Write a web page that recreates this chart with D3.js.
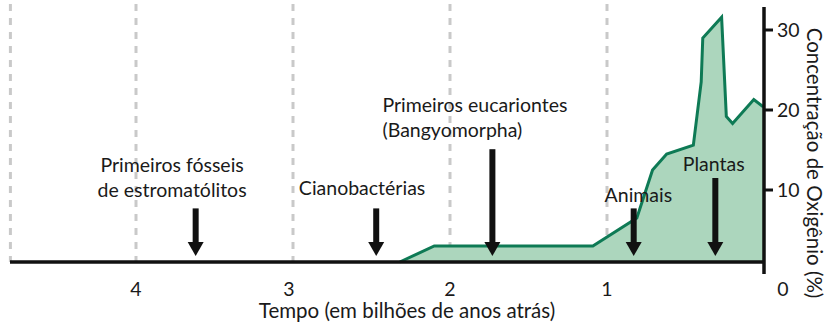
<!DOCTYPE html>
<html>
<head>
<meta charset="utf-8">
<script src="https://cdn.jsdelivr.net/npm/d3@7/dist/d3.min.js"></script>
<style>
  html, body { margin: 0; padding: 0; background: #fff; }
  svg { display: block; }
  text { font-family: Lato, "Open Sans", sans-serif; fill: #1a1a1a; }
</style>
</head>
<body>
<svg id="chart" width="831" height="327"></svg>
<script>
// Data (time in billions of years ago, oxygen concentration in %)
const timeGa = [2.32, 2.10, 1.09, 0.81, 0.71, 0.62, 0.45, 0.40, 0.39, 0.27, 0.24, 0.20, 0.065, 0.005];
const oxygen = [1.0, 3.0, 3.0, 6.5, 12.5, 14.5, 15.6, 23.5, 29.0, 31.6, 19.2, 18.3, 21.3, 20.4];
const xTicks = [4, 3, 2, 1, 0];
const yTicks = [10, 20, 30];
const gridTimes = [4.8, 4, 3, 2, 1];
const eventLabels = [
  ["Primeiros fósseis", "de estromatólitos"],
  ["Cianobactérias"],
  ["Primeiros eucariontes", "(Bangyomorpha)"],
  ["Animais"],
  ["Plantas"]
];
const eventTimes = [3.62, 2.47, 1.73, 0.83, 0.31];
const arrowTopO2 = [7.7, 7.7, 15.1, 7.7, 11.5];
const labelO2 = [[12.25, 9.1], [9.35], [19.75, 16.65], [8.5], [12.4]];
const labelAnchor = ["middle", "middle", "start", "middle", "middle"];
const labelTimeAnchor = [3.77, 2.56, 2.43, 0.80, 0.32];
const baseO2 = 1.0;

const svg = d3.select("#chart");
const x = d3.scaleLinear().domain([0, 4]).range([764, 136]);
const y = d3.scaleLinear().domain([0, 30]).range([270, 30]);
const green = "#0e7a55";
const fill = "#acd6bd";
const fs = 19.5;

// Gridlines
svg.append("g").selectAll("line").data(gridTimes).join("line")
  .attr("x1", d => x(d)).attr("x2", d => x(d))
  .attr("y1", 4).attr("y2", y(baseO2))
  .attr("stroke", "#c9c9c9").attr("stroke-width", 3)
  .attr("stroke-dasharray", "7,7");

// Area
const pts = timeGa.map((t, i) => [t, oxygen[i]]);
const area = d3.area().x(d => x(d[0])).y0(y(baseO2)).y1(d => y(d[1]));
svg.append("path").datum(pts).attr("d", area).attr("fill", fill);
const line = d3.line().x(d => x(d[0])).y(d => y(d[1]));
svg.append("path").datum(pts).attr("d", line)
  .attr("fill", "none").attr("stroke", green).attr("stroke-width", 3)
  .attr("stroke-linejoin", "miter");

// X axis line
svg.append("line").attr("x1", 10).attr("x2", x(0)).attr("y1", y(baseO2)).attr("y2", y(baseO2))
  .attr("stroke", "#111").attr("stroke-width", 3.5);

// Y axis
svg.append("line").attr("x1", x(0)).attr("x2", x(0)).attr("y1", 7).attr("y2", 274)
  .attr("stroke", "#111").attr("stroke-width", 3.5);
svg.append("g").selectAll("line").data(yTicks).join("line")
  .attr("x1", x(0)).attr("x2", x(0) + 9)
  .attr("y1", d => y(d)).attr("y2", d => y(d))
  .attr("stroke", "#111").attr("stroke-width", 3);
svg.append("g").selectAll("text").data(yTicks).join("text")
  .attr("x", 777).attr("y", d => y(d) + 7)
  .attr("font-size", fs).text(d => d);

// X tick labels
svg.append("g").selectAll("text").data(xTicks).join("text")
  .attr("x", d => d === 0 ? 783 : x(d) - (d === 3 ? 4 : 0))
  .attr("y", 296).attr("text-anchor", "middle")
  .attr("font-size", fs).text(d => d);

// Axis titles
svg.append("text").attr("x", 407).attr("y", 318).attr("text-anchor", "middle")
  .attr("font-size", 20.5).text("Tempo (em bilhões de anos atrás)");
svg.append("text").attr("transform", "translate(807,163) rotate(90)")
  .attr("text-anchor", "middle").attr("font-size", 20.5)
  .text("Concentração de Oxigênio (%)");

// Arrows
const tipY = 256;
eventTimes.forEach((t, i) => {
  const cx = x(t);
  const top = y(arrowTopO2[i]);
  svg.append("rect").attr("x", cx - 3).attr("y", top).attr("width", 6).attr("height", tipY - 12 - top)
    .attr("fill", "#111");
  svg.append("path")
    .attr("d", `M${cx - 8},${tipY - 14} L${cx + 8},${tipY - 14} L${cx},${tipY} Z`)
    .attr("fill", "#111");
  const g = svg.append("text").attr("text-anchor", labelAnchor[i]).attr("font-size", fs);
  eventLabels[i].forEach((s, j) => {
    g.append("tspan").attr("x", x(labelTimeAnchor[i])).attr("y", y(labelO2[i][j])).text(s);
  });
});
</script>
</body>
</html>
